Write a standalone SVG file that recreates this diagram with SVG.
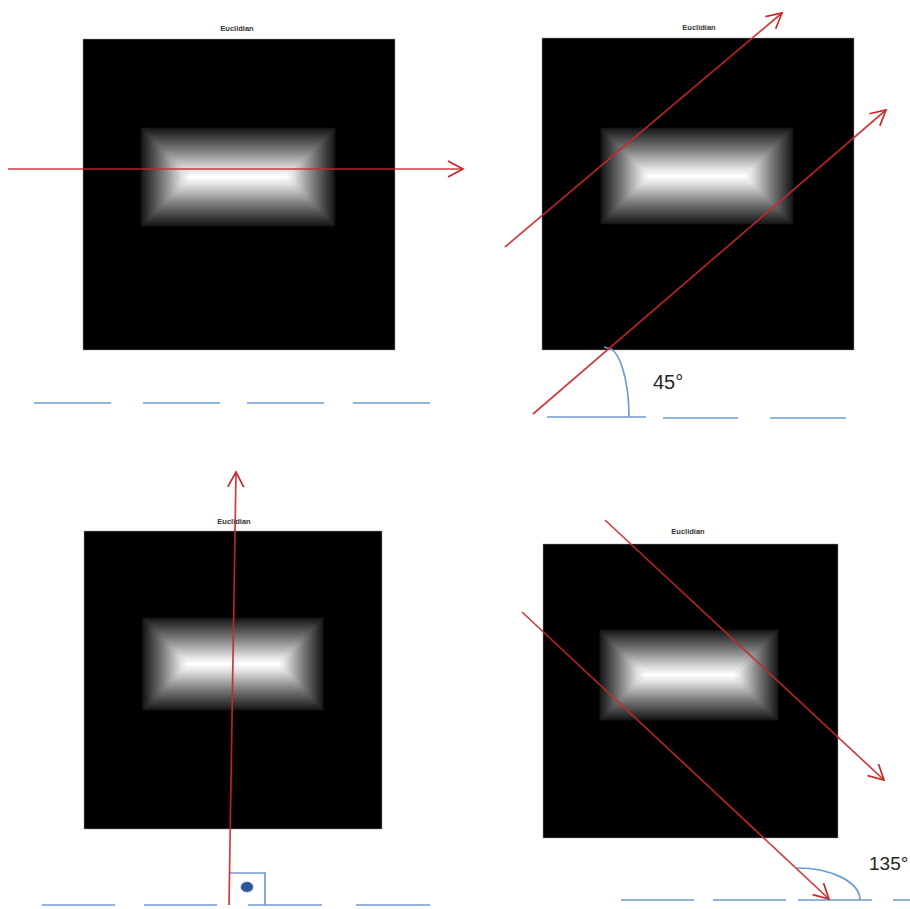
<svg xmlns="http://www.w3.org/2000/svg" width="910" height="909" viewBox="0 0 910 909">
<style>
.sq{fill:#000;stroke:#9a9a9a;stroke-width:0.5}
.ttl{font-family:"Liberation Sans",Arial,sans-serif;font-size:7.5px;font-weight:bold;fill:#333;text-anchor:middle}
.red{fill:none;stroke:#c8282a;stroke-width:1.7;stroke-opacity:0.9;marker-end:url(#ah)}
.blue{fill:none;stroke:#6d9bd2;stroke-width:1.7}
.ang{font-family:"Liberation Sans",Arial,sans-serif;fill:#262626}
</style>
<defs>
<marker id="ah" viewBox="0 0 18 18" refX="16" refY="9" markerWidth="18" markerHeight="18" markerUnits="userSpaceOnUse" orient="auto">
<path d="M1,1 L16,9 L1,17" fill="none" stroke="#c8282a" stroke-width="1.7" stroke-linejoin="miter"/>
</marker>
<linearGradient id="gT" x1="0" y1="0" x2="0" y2="1"><stop offset="0" stop-color="#141414"/><stop offset="0.45" stop-color="#7c7c7c"/><stop offset="0.85" stop-color="#e2e2e2"/><stop offset="1" stop-color="#ffffff"/></linearGradient>
<linearGradient id="gB" x1="0" y1="1" x2="0" y2="0"><stop offset="0" stop-color="#141414"/><stop offset="0.45" stop-color="#7c7c7c"/><stop offset="0.85" stop-color="#e2e2e2"/><stop offset="1" stop-color="#ffffff"/></linearGradient>
<linearGradient id="gL" x1="0" y1="0" x2="1" y2="0"><stop offset="0" stop-color="#141414"/><stop offset="0.45" stop-color="#7c7c7c"/><stop offset="0.85" stop-color="#e2e2e2"/><stop offset="1" stop-color="#ffffff"/></linearGradient>
<linearGradient id="gR" x1="1" y1="0" x2="0" y2="0"><stop offset="0" stop-color="#141414"/><stop offset="0.45" stop-color="#7c7c7c"/><stop offset="0.85" stop-color="#e2e2e2"/><stop offset="1" stop-color="#ffffff"/></linearGradient>
<g id="glow">
<polygon points="-96,-48 96,-48 48,0 -48,0" fill="url(#gT)" stroke="url(#gT)" stroke-width="0.6"/>
<polygon points="-96,48 96,48 48,0 -48,0" fill="url(#gB)" stroke="url(#gB)" stroke-width="0.6"/>
<polygon points="-96,-48 -48,0 -96,48" fill="url(#gL)" stroke="url(#gL)" stroke-width="0.6"/>
<polygon points="96,-48 48,0 96,48" fill="url(#gR)" stroke="url(#gR)" stroke-width="0.6"/>
<line x1="-50" y1="0" x2="50" y2="0" stroke="#fff" stroke-width="2.5"/>
</g>
</defs>
<rect width="910" height="909" fill="#fff"/>

<g id="panel1">
<text class="ttl" x="237" y="31">Euclidian</text>
<rect class="sq" x="83" y="39" width="312" height="311"/>
<use href="#glow" transform="translate(238,177) scale(1.01,1.02)"/>
</g>
<g id="panel2">
<text class="ttl" x="699" y="30">Euclidian</text>
<rect class="sq" x="542" y="38" width="312" height="312"/>
<use href="#glow" transform="translate(697,176)"/>
<text class="ang" x="653" y="389" font-size="20">45°</text>
</g>
<g id="panel3">
<text class="ttl" x="234" y="524">Euclidian</text>
<rect class="sq" x="84" y="531" width="298" height="298"/>
<use href="#glow" transform="translate(233,664) scale(0.94,0.96)"/>
<ellipse cx="247" cy="887" rx="6" ry="5" fill="#2f5597" stroke="#4a78b8" stroke-width="0.8"/>
</g>
<g id="panel4">
<text class="ttl" x="688" y="534">Euclidian</text>
<rect class="sq" x="543" y="544" width="295" height="294"/>
<use href="#glow" transform="translate(689,675) scale(0.93,0.94)"/>
<text class="ang" x="869" y="870" font-size="19">135°</text>
</g>

<g id="baselines">
<path class="blue" d="M34,403H111M143,403H220M247,403H324M353,403H430"/>
<path class="blue" d="M547,417H646M663,418H738M770,418H846"/>
<path class="blue" d="M42,905H115M144,905H217M248,905H322M356,905H430"/>
<path class="blue" d="M621,900H694M713,900H786M798,900H872M893,900H912"/>
<path class="blue" d="M604,347Q605,347 607,348A22,69 0 0 1 629,417"/>
<polyline class="blue" points="229,873 265,873 265,905"/>
<path class="blue" d="M797,868A63,32 0 0 1 860,900"/>
</g>

<g id="connectors">
<line class="red" x1="8" y1="169" x2="463" y2="169"/>
<line class="red" x1="505" y1="247" x2="782" y2="13"/>
<line class="red" x1="533" y1="414" x2="886" y2="110"/>
<line class="red" x1="229" y1="905" x2="236" y2="472"/>
<line class="red" x1="605" y1="520" x2="884" y2="780"/>
<line class="red" x1="522" y1="612" x2="829" y2="899"/>
</g>
</svg>
